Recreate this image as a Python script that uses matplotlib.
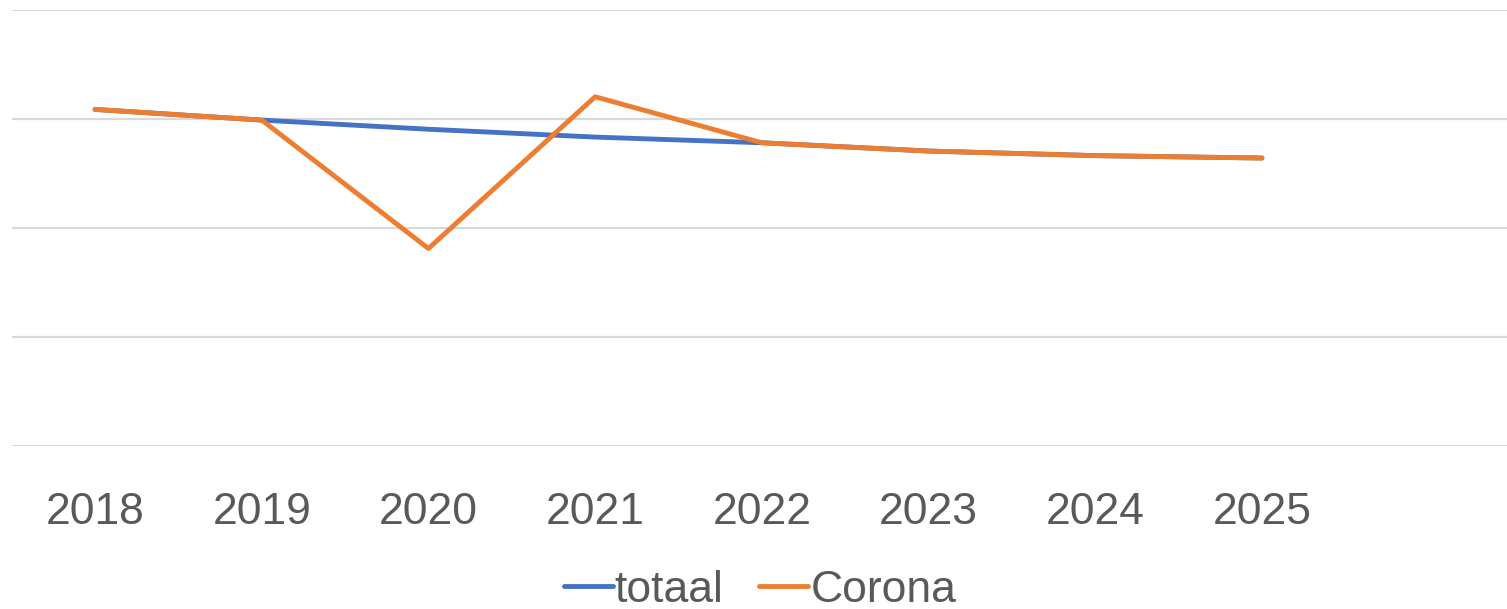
import matplotlib
matplotlib.use("Agg")
import matplotlib.pyplot as plt

years = ["2018", "2019", "2020", "2021", "2022", "2023", "2024", "2025"]
totaal = [154.4, 149.5, 145.3, 141.7, 139.1, 135.3, 133.2, 132.1]
corona = [154.4, 149.5, 90.6, 160.2, 139.1, 135.3, 133.2, 132.1]
y_ticks = [0, 50, 100, 150, 200]

plt.rcParams['font.family'] = ['Liberation Sans', 'DejaVu Sans']

fig = plt.figure(figsize=(15.07, 6.09), dpi=100)
ax = fig.add_axes([11.7 / 1507, (609 - 446) / 609, (1507 - 11.7) / 1507, 436 / 609])

x = list(range(len(years)))
ax.plot(x, totaal, color='#4472C4', lw=3.5, solid_capstyle='round', solid_joinstyle='round', label='totaal', zorder=3)
ax.plot(x, corona, color='#ED7D31', lw=3.5, solid_capstyle='round', solid_joinstyle='round', label='Corona', zorder=4)

ax.set_xlim(-0.5, 8.47)
ax.set_ylim(0, 200)
ax.set_yticks(y_ticks)
ax.set_yticklabels([])
ax.set_xticks(x)
ax.set_xticklabels(years)
ax.tick_params(axis='x', length=0, pad=33, labelsize=32, labelcolor='#595959')
ax.tick_params(axis='y', length=0)
ax.grid(axis='y', color='#D9D9D9', lw=1.6, zorder=0)
for s in ax.spines.values():
    s.set_visible(False)

leg = fig.legend(loc='center', bbox_to_anchor=(760 / 1507, 1 - 590 / 609), ncol=2, frameon=False,
                 fontsize=32, handlelength=1.1, handletextpad=0.05, columnspacing=0.8,
                 borderaxespad=0, borderpad=0)
for t in leg.get_texts():
    t.set_color('#595959')

fig.savefig('out.png', dpi=100)
